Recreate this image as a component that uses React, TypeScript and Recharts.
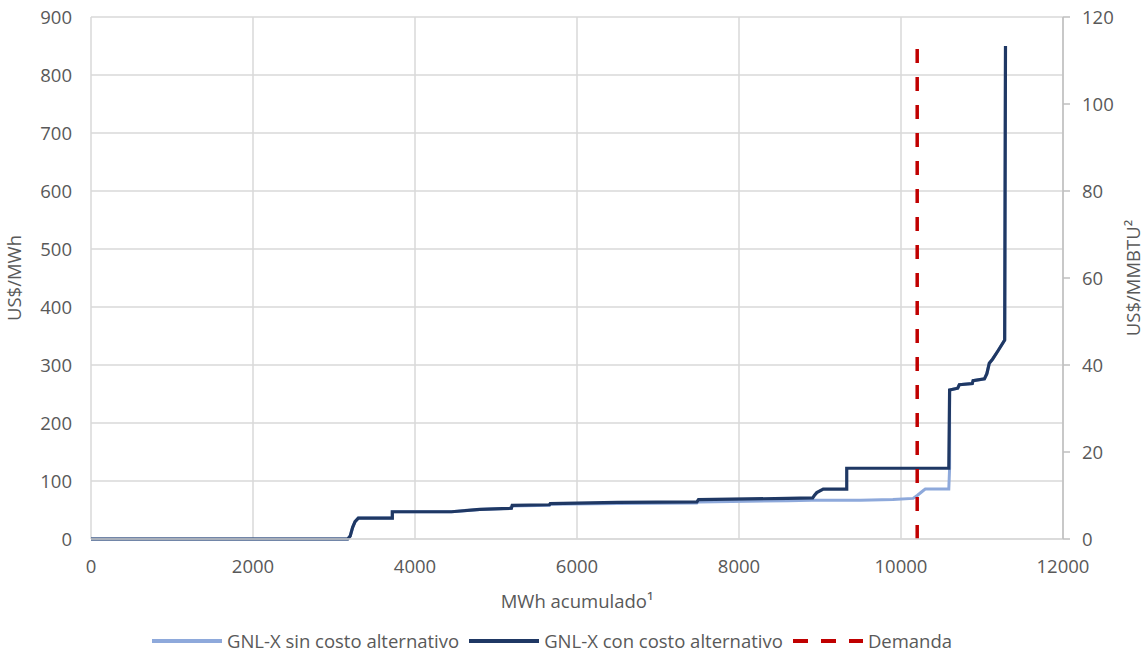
import React from "react";
import { LineChart, Line, XAxis, YAxis, CartesianGrid } from "recharts";

// MWh acumulado vs precio (US$/MWh), curva de oferta
const sinX = [0, 3170, 3200, 3230, 3260, 3300, 3720, 3720, 4450, 4800, 5190, 5200, 5660, 5670, 6500, 7480, 7500, 8600, 8900, 9500, 9900, 10150, 10200, 10280, 10300, 10590, 10600, 10600, 10700, 10720, 10880, 10890, 11030, 11060, 11090, 11130, 11200, 11280, 11290];
const sinY = [0, 0, 5, 20, 30, 36, 36, 47, 47, 51, 53, 57, 58, 60, 61, 62, 64, 66, 67, 67, 68, 70, 75, 84, 86, 86, 122, 257, 260, 266, 268, 273, 276, 285, 303, 310, 325, 343, 850];

const conX = [0, 3170, 3200, 3230, 3260, 3300, 3720, 3720, 4450, 4800, 5190, 5200, 5660, 5670, 6500, 7480, 7500, 8600, 8910, 8930, 8960, 9040, 9330, 9330, 10590, 10600, 10700, 10720, 10880, 10890, 11030, 11060, 11090, 11130, 11200, 11280, 11290];
const conY = [0, 0, 5, 20, 30, 36, 36, 47, 47, 51, 53, 58, 59, 61, 63, 64, 68, 70, 71, 75, 80, 86, 86, 122, 122, 257, 260, 266, 268, 273, 276, 285, 303, 310, 325, 343, 850];

const demandaX = [10200, 10200];
const demandaY = [0, 845];

// eje secundario (US$/MMBTU)
const mmbtuY = [0, 120];

const xTicks = [0, 2000, 4000, 6000, 8000, 10000, 12000];
const leftTicks = [0, 100, 200, 300, 400, 500, 600, 700, 800, 900];
const rightTicks = [0, 20, 40, 60, 80, 100, 120];

const toData = (xs: number[], ys: number[]) => xs.map((x, i) => ({ x, y: ys[i] }));

const FONT = "'Open Sans', sans-serif";
const TXT = "#595959";
const tickStyle = { fontSize: 18.5, fill: TXT, fontFamily: FONT };

const LegendItem = ({ color, dashed, label, last }: { color: string; dashed?: boolean; label: string; last?: boolean }) => (
  <div style={{ display: "flex", alignItems: "center", marginRight: last ? 0 : 10 }}>
    <svg width={70} height={6} style={{ marginRight: 5 }}>
      <line
        x1={0}
        y1={3}
        x2={70}
        y2={3}
        stroke={color}
        strokeWidth={4}
        strokeDasharray={dashed ? "15 13" : undefined}
      />
    </svg>
    <span>{label}</span>
  </div>
);

export default function App() {
  return (
    <div style={{ position: "absolute", left: 0, top: 0, width: 1146, height: 653, background: "#fff" }}>
      <LineChart width={1146} height={620} margin={{ top: 17, right: 0, bottom: 0, left: 0 }}>
        <CartesianGrid yAxisId="left" stroke="#D9D9D9" strokeWidth={1.5} />
        <XAxis
          dataKey="x"
          type="number"
          domain={[0, 12000]}
          ticks={xTicks}
          height={81}
          tickLine={false}
          tickSize={0}
          tickMargin={21}
          axisLine={{ stroke: "#D9D9D9", strokeWidth: 1.5 }}
          tick={tickStyle}
          label={{ value: "MWh acumulado¹", position: "insideBottom", offset: 12, style: tickStyle }}
        />
        <YAxis
          yAxisId="left"
          dataKey="y"
          type="number"
          domain={[0, 900]}
          ticks={leftTicks}
          width={91}
          axisLine={false}
          tickLine={false}
          tickSize={0}
          tickMargin={19}
          tick={tickStyle}
          label={{ value: "US$/MWh", angle: -90, position: "center", dx: -31, style: tickStyle }}
        />
        <YAxis
          yAxisId="right"
          orientation="right"
          dataKey="y"
          type="number"
          domain={[0, 120]}
          ticks={rightTicks}
          allowDataOverflow
          includeHidden
          width={83}
          axisLine={{ stroke: "#BFBFBF", strokeWidth: 1.5 }}
          tickLine={{ stroke: "#BFBFBF", strokeWidth: 1.5 }}
          tickSize={7}
          tickMargin={12}
          tick={tickStyle}
          label={{ value: "US$/MMBTU²", angle: -90, position: "center", dx: 29, style: tickStyle }}
        />
        <Line
          yAxisId="right"
          data={toData(demandaX, mmbtuY)}
          dataKey="y"
          hide
          legendType="none"
          dot={false}
          activeDot={false}
          isAnimationActive={false}
        />
        <Line
          yAxisId="left"
          data={toData(sinX, sinY)}
          dataKey="y"
          type="linear"
          stroke="#8EA9DB"
          strokeWidth={3}
          dot={false}
          activeDot={false}
          isAnimationActive={false}
        />
        <Line
          yAxisId="left"
          data={toData(conX, conY)}
          dataKey="y"
          type="linear"
          stroke="#1F3864"
          strokeWidth={3.2}
          dot={false}
          activeDot={false}
          isAnimationActive={false}
        />
        <Line
          yAxisId="left"
          data={toData(demandaX, demandaY)}
          dataKey="y"
          type="linear"
          stroke="#C00000"
          strokeWidth={3.5}
          strokeDasharray="14 14"
          dot={false}
          activeDot={false}
          isAnimationActive={false}
        />
      </LineChart>
      <div
        style={{
          position: "absolute",
          left: -21,
          top: 628,
          width: 1146,
          display: "flex",
          justifyContent: "center",
          fontFamily: FONT,
          fontSize: 18.5,
          color: TXT,
          lineHeight: "26px",
        }}
      >
        <LegendItem color="#8EA9DB" label="GNL-X sin costo alternativo" />
        <LegendItem color="#1F3864" label="GNL-X con costo alternativo" />
        <LegendItem color="#C00000" dashed label="Demanda" last />
      </div>
    </div>
  );
}
